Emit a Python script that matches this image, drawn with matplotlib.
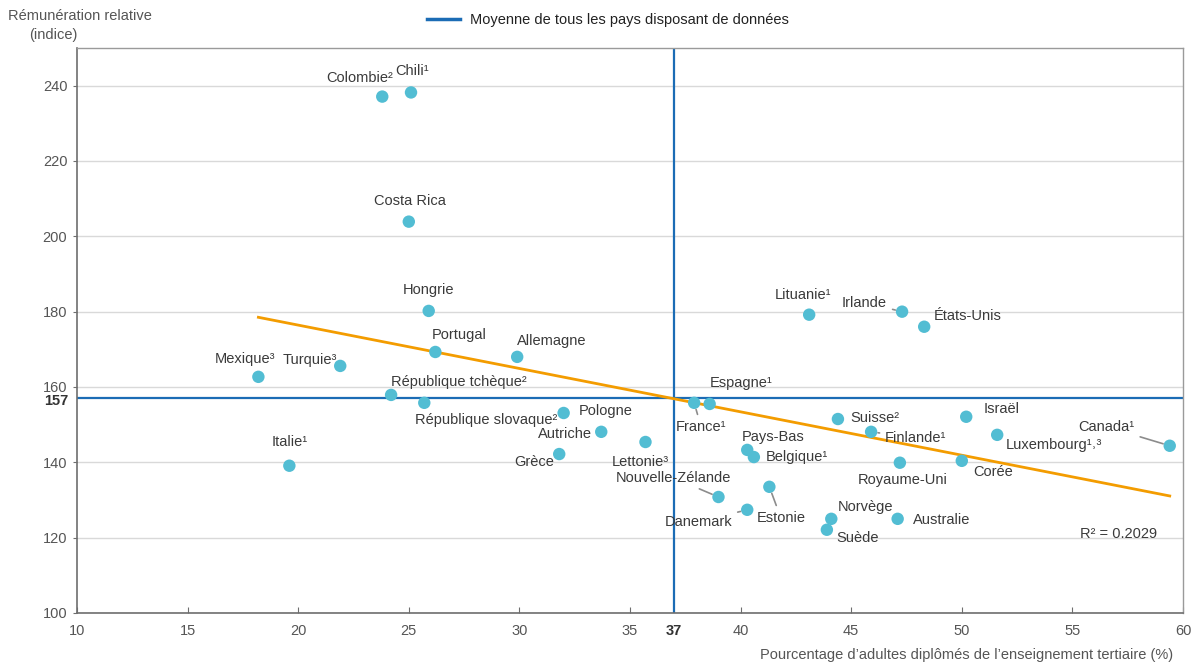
import numpy as np
import matplotlib
matplotlib.use("Agg")
import matplotlib.pyplot as plt
from matplotlib.lines import Line2D

# ---------------- data ----------------
countries = ["Colombie²", "Chili¹", "Costa Rica", "Hongrie", "Portugal", "Allemagne",
             "Mexique³", "Turquie³", "République tchèque²", "République slovaque²",
             "Pologne", "Autriche", "Grèce", "Lettonie³", "Italie¹", "France¹",
             "Espagne¹", "Nouvelle-Zélande", "Danemark", "Estonie", "Pays-Bas",
             "Belgique¹", "Suisse²", "Finlande¹", "Royaume-Uni", "Norvège", "Suède",
             "Australie", "Israël", "Luxembourg¹˒³", "Corée", "Canada¹", "Lituanie¹",
             "Irlande", "États-Unis"]
tertiary = [23.8, 25.1, 25.0, 25.9, 26.2, 29.9,
            18.2, 21.9, 24.2, 25.7,
            32.0, 33.7, 31.8, 35.7, 19.6, 37.9,
            38.6, 39.0, 40.3, 41.3, 40.3,
            40.6, 44.4, 45.9, 47.2, 44.1, 43.9,
            47.1, 50.2, 51.6, 50.0, 59.4, 43.1,
            47.3, 48.3]
earnings = [237.1, 238.2, 203.9, 180.2, 169.3, 168.0,
            162.7, 165.6, 157.9, 155.8,
            153.1, 148.1, 142.2, 145.4, 139.1, 155.8,
            155.5, 130.8, 127.4, 133.5, 143.3,
            141.4, 151.5, 148.1, 139.9, 125.0, 122.1,
            125.0, 152.1, 147.3, 140.4, 144.4, 179.2,
            180.0, 176.0]
mean_x = 37
mean_y = 157
r2_text = "R² = 0.2029"
x_ticks = [10, 15, 20, 25, 30, 35, 40, 45, 50, 55, 60]
y_ticks = [100, 120, 140, 160, 180, 200, 220, 240]
legend_label = "Moyenne de tous les pays disposant de données"
x_title = "Pourcentage d’adultes diplômés de l’enseignement tertiaire (%)"
y_title_1 = "Rémunération relative"
y_title_2 = "(indice)"

# label layout: (dx, dy in pixels, ha, leader)
label_layout = {
    "Colombie²": (11, 19, "right", False),
    "Chili¹": (1, 21, "center", False),
    "Costa Rica": (1, 21, "center", False),
    "Hongrie": (0, 21, "center", False),
    "Portugal": (-4, 17, "left", False),
    "Allemagne": (0, 16, "left", False),
    "Mexique³": (17, 18, "right", False),
    "Turquie³": (-3, 6, "right", False),
    "République tchèque²": (0, 13, "left", False),
    "République slovaque²": (-9, -17, "left", False),
    "Pologne": (15, 2, "left", False),
    "Autriche": (-9, -2, "right", False),
    "Grèce": (-5, -8, "right", False),
    "Lettonie³": (23, -20, "right", False),
    "Italie¹": (0, 24, "center", False),
    "France¹": (7, -24, "center", True),
    "Espagne¹": (0, 21, "left", False),
    "Nouvelle-Zélande": (13, 19, "right", True),
    "Danemark": (-15, -12, "right", True),
    "Estonie": (-13, -31, "left", True),
    "Pays-Bas": (-5, 13, "left", False),
    "Belgique¹": (12, 0, "left", False),
    "Suisse²": (12, 1, "left", False),
    "Finlande¹": (14, -6, "left", True),
    "Royaume-Uni": (3, -17, "center", False),
    "Norvège": (6, 12, "left", False),
    "Suède": (9, -8, "left", False),
    "Australie": (15, -1, "left", False),
    "Israël": (17, 8, "left", False),
    "Luxembourg¹˒³": (9, -10, "left", False),
    "Corée": (11, -11, "left", False),
    "Canada¹": (-35, 19, "right", True),
    "Lituanie¹": (-6, 20, "center", False),
    "Irlande": (-15, 9, "right", True),
    "États-Unis": (10, 11, "left", False),
}

plt.rcParams["font.family"] = ["Liberation Sans", "DejaVu Sans"]

DOT = "#52BDD3"
BLUE = "#1B6CB5"
ORANGE = "#F39C00"
TXT = "#3A3A3A"
TICK = "#555555"
FS = 10.5

fig = plt.figure(figsize=(11.95, 6.63), dpi=100)
ax = fig.add_axes([77/1195, 50/663, (1183-77)/1195, (613-48)/663])

ax.set_xlim(10, 60)
ax.set_ylim(100, 250)

# grid
for yv in y_ticks:
    ax.axhline(yv, color="#D9D9D9", lw=1.0, zorder=0)

# mean lines
ax.axvline(mean_x, color=BLUE, lw=1.6, zorder=1)
ax.axhline(mean_y, color=BLUE, lw=1.6, zorder=1)

# trend line
x = np.array(tertiary)
y = np.array(earnings)
slope, intercept = np.polyfit(x, y, 1)
xs = np.array([x.min(), x.max()])
ax.plot(xs, slope*xs + intercept, color=ORANGE, lw=2.0, zorder=2)

# points
ax.scatter(x, y, s=80, color=DOT, edgecolors="none", zorder=3)

# labels
for name, xv, yv in zip(countries, tertiary, earnings):
    dx, dy, ha, leader = label_layout[name]
    kw = {}
    if leader:
        kw["arrowprops"] = dict(arrowstyle="-", color="#8C8C8C", lw=1.2,
                                shrinkA=2, shrinkB=5)
    ax.annotate(name, (xv, yv), xytext=(dx, dy), textcoords="offset pixels",
                ha=ha, va="center", fontsize=FS, color=TXT, zorder=4, **kw)

ax.text(0.977, 0.14, r2_text, transform=ax.transAxes, ha="right", va="center",
        fontsize=FS, color=TXT)

# spines
for s in ["top", "right"]:
    ax.spines[s].set_color("#9A9A9A")
    ax.spines[s].set_linewidth(1.0)
for s in ["left", "bottom"]:
    ax.spines[s].set_color("#6E6E6E")
    ax.spines[s].set_linewidth(1.2)

# ticks
ax.set_xticks(x_ticks)
ax.set_xticklabels([str(v) for v in x_ticks])
ax.set_yticks(y_ticks)
ax.set_yticklabels([str(v) for v in y_ticks])
ax.tick_params(axis="x", direction="in", length=4, color="#6E6E6E", labelsize=FS,
               labelcolor=TICK, pad=8)
ax.tick_params(axis="y", direction="out", length=3, color="#6E6E6E", labelsize=FS,
               labelcolor=TICK, pad=4)

# bold mean value labels on the axes
ax.annotate(str(mean_x), (mean_x, 0), xycoords=ax.get_xaxis_transform(),
            xytext=(0, -18), textcoords="offset pixels", ha="center", va="center",
            fontsize=FS, fontweight="bold", color="#333333", annotation_clip=False)
ax.annotate(str(mean_y), (0, mean_y), xycoords=ax.get_yaxis_transform(),
            xytext=(-9, -3), textcoords="offset pixels", ha="right", va="center",
            fontsize=FS, fontweight="bold", color="#333333", annotation_clip=False)

# titles
fig.text(8/1195, 1 - 16/663, y_title_1, ha="left", va="center", fontsize=FS,
         color=TICK)
fig.text(53/1195, 1 - 35/663, y_title_2, ha="center", va="center", fontsize=FS,
         color=TICK)
fig.text(1173/1195, 1 - 655/663, x_title, ha="right", va="center", fontsize=FS,
         color=TICK)

# legend
h = Line2D([0], [0], color=BLUE, lw=2.5)
fig.legend([h], [legend_label], loc="center", bbox_to_anchor=(608/1195, 1 - 20/663),
           frameon=False, fontsize=FS, handlelength=2.2, handletextpad=0.7,
           labelcolor="#222222")

fig.savefig("out.png", dpi=100)
